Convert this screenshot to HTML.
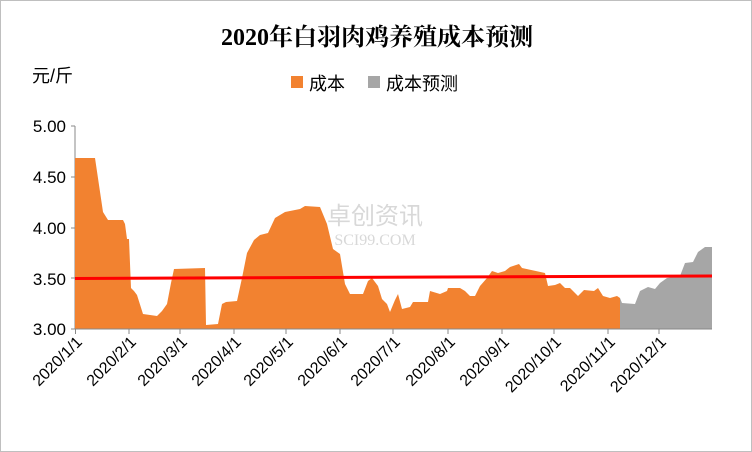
<!DOCTYPE html>
<html><head><meta charset="utf-8"><style>
body{margin:0;background:#fff}
svg{display:block;font-family:"Liberation Sans","Noto Sans CJK SC",sans-serif}
</style></head><body>
<svg width="752" height="452" viewBox="0 0 752 452">
<rect x="0.5" y="0.5" width="751" height="451" fill="#fff" stroke="#bfbfbf"/>
<text x="377" y="45" text-anchor="middle" font-size="24" font-weight="bold" font-family="Liberation Serif,Noto Serif CJK SC,serif" fill="#000">2020年白羽肉鸡养殖成本预测</text>
<text x="32" y="82" font-size="18" fill="#000">元/斤</text>
<rect x="291" y="76" width="12" height="12" fill="#f28230"/>
<text x="309" y="90" font-size="18">成本</text>
<rect x="368" y="76" width="12" height="12" fill="#a6a6a6"/>
<text x="386" y="90" font-size="18">成本预测</text>
<g font-size="17" text-anchor="end" fill="#000">
<text x="66" y="132">5.00</text><text x="66" y="183">4.50</text><text x="66" y="234">4.00</text><text x="66" y="285">3.50</text><text x="66" y="335">3.00</text>
</g>
<line x1="75" y1="126" x2="75" y2="329" stroke="#888"/>
<g stroke="#888"><line x1="71" y1="126" x2="75" y2="126"/><line x1="71" y1="177" x2="75" y2="177"/><line x1="71" y1="228" x2="75" y2="228"/><line x1="71" y1="278" x2="75" y2="278"/><line x1="71" y1="329" x2="75" y2="329"/></g>
<polygon fill="#f28230" points="75,329 75,158 95,158 103,212 108,220 123,220 125,224 127,239 129,239 131,288 134,291 137,295 143,314 157,316 162,311 167,304 171,283 174,269 205,268 206,325 218,324 222,304 226,302 237,301 242,278 247,253 254,240 260,235 268,233 275,218 285,212 300,209 305,206 320,207 327,224 333,249 340,254 345,284 350,294 363,294 368,281 372,278 378,286 382,299 387,304 390,312 395,300 398,294 402,309 410,307 413,302 428,302 430,291 440,294 447,291 448,288 460,288 465,291 470,296 475,296 480,286 487,278 492,271 498,273 505,271 510,267 519,264 522,268 545,273 548,286 555,285 560,283 565,288 570,288 578,296 584,290 594,291 598,288 603,296 610,298 617,296 620,298 620,329"/>
<polygon fill="#a6a6a6" points="620,329 620,298 622,303 635,304 640,291 648,287 655,289 660,283 667,278 680,276 685,263 693,262 698,252 705,247 712,247 712,329"/>
<text x="375" y="224" text-anchor="middle" font-size="24" fill="#c8c8c8" opacity="0.7">卓创资讯</text>
<text x="375" y="245" text-anchor="middle" font-size="16" fill="#c8c8c8" opacity="0.7" font-family="Liberation Serif,serif">SCI99.COM</text>
<line x1="75" y1="278.5" x2="712" y2="276" stroke="#ff0000" stroke-width="3"/>
<line x1="75" y1="329" x2="712" y2="329" stroke="#888"/>
<g stroke="#888">
<line x1="75.5" y1="329" x2="75.5" y2="334"/><line x1="129" y1="329" x2="129" y2="334"/><line x1="180" y1="329" x2="180" y2="334"/><line x1="234" y1="329" x2="234" y2="334"/><line x1="286" y1="329" x2="286" y2="334"/><line x1="340" y1="329" x2="340" y2="334"/><line x1="393" y1="329" x2="393" y2="334"/><line x1="448" y1="329" x2="448" y2="334"/><line x1="502" y1="329" x2="502" y2="334"/><line x1="554" y1="329" x2="554" y2="334"/><line x1="608" y1="329" x2="608" y2="334"/><line x1="659" y1="329" x2="659" y2="334"/>
</g>
<g font-size="16" text-anchor="end" fill="#000">
<text transform="translate(83,343) rotate(-45)">2020/1/1</text>
<text transform="translate(137,343) rotate(-45)">2020/2/1</text>
<text transform="translate(188,343) rotate(-45)">2020/3/1</text>
<text transform="translate(242,343) rotate(-45)">2020/4/1</text>
<text transform="translate(294,343) rotate(-45)">2020/5/1</text>
<text transform="translate(348,343) rotate(-45)">2020/6/1</text>
<text transform="translate(401,343) rotate(-45)">2020/7/1</text>
<text transform="translate(456,343) rotate(-45)">2020/8/1</text>
<text transform="translate(510,343) rotate(-45)">2020/9/1</text>
<text transform="translate(562,343) rotate(-45)">2020/10/1</text>
<text transform="translate(616,343) rotate(-45)">2020/11/1</text>
<text transform="translate(667,343) rotate(-45)">2020/12/1</text>
</g>
</svg>
</body></html>
